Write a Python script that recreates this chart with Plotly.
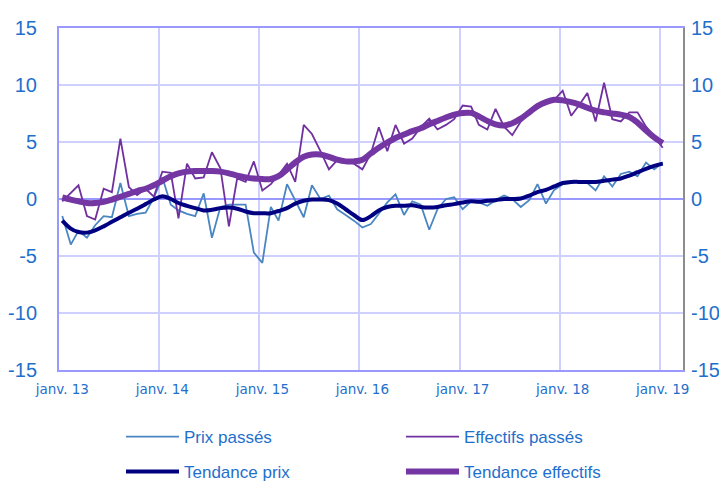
import pandas as pd
import plotly.graph_objects as go

months = pd.date_range("2013-01-01", periods=73, freq="MS")

prix_passes = [
    -1.5, -4.0, -2.8, -3.4, -2.3, -1.5, -1.6, 1.4, -1.5, -1.3, -1.2, 0.1,
    1.9, -0.5, -1.0, -1.3, -1.5, 0.5, -3.4, -0.7, -0.5, -0.5, -0.5, -4.7,
    -5.6, -0.7, -1.9, 1.3, -0.1, -1.6, 1.2, 0.0, 0.3, -0.9, -1.4, -1.9,
    -2.5, -2.2, -1.3, -0.3, 0.4, -1.4, -0.2, -0.5, -2.7, -0.9, 0.0, 0.15,
    -0.9, -0.2, -0.3, -0.6, -0.1, 0.3, 0.0, -0.7, -0.1, 1.3, -0.4, 0.8,
    1.3, 1.4, 1.5, 1.4, 0.75, 2.0, 1.1, 2.2, 2.4, 2.0, 3.2, 2.6,
    3.2,
]

effectifs_passes = [
    -0.2, 0.5, 1.2, -1.5, -1.8, 0.9, 0.6, 5.3, 1.05, 0.35, 0.9, 0.2,
    2.4, 2.3, -1.7, 3.1, 1.8, 1.9, 4.1, 2.7, -2.4, 1.8, 1.5, 3.3,
    0.75, 1.3, 2.1, 3.1, 1.5, 6.5, 5.7, 4.2, 2.6, 3.4, 3.3, 3.1,
    2.6, 4.0, 6.3, 4.2, 6.5, 4.85, 5.3, 6.3, 7.05, 6.1, 6.5, 7.0,
    8.2, 8.1, 6.5, 6.1, 7.9, 6.35, 5.6, 6.8, 7.5, 8.2, 8.55, 8.7,
    9.5, 7.3, 8.2, 9.3, 6.8, 10.2, 7.0, 6.8, 7.6, 7.6, 6.35, 5.5,
    4.5,
]

tendance_prix = [
    -1.9, -2.6, -2.9, -2.95, -2.75, -2.4, -2.0, -1.6, -1.2, -0.85, -0.45, -0.05,
    0.25, 0.0, -0.35, -0.6, -0.8, -1.0, -0.95, -0.8, -0.75, -0.85, -1.1, -1.25,
    -1.25, -1.25, -1.05, -0.8, -0.4, -0.15, -0.05, -0.05, -0.1, -0.4, -0.9, -1.4,
    -1.85, -1.5, -1.0, -0.7, -0.6, -0.6, -0.55, -0.7, -0.75, -0.7, -0.55, -0.45,
    -0.3, -0.2, -0.25, -0.15, -0.1, 0.0, 0.0, 0.05, 0.3, 0.6, 0.8, 1.1,
    1.4, 1.5, 1.5, 1.5, 1.5, 1.6, 1.7, 1.8, 2.05, 2.35, 2.65, 2.9,
    3.1,
]

tendance_effectifs = [
    0.15, -0.05, -0.2, -0.35, -0.35, -0.25, -0.05, 0.2, 0.45, 0.7, 0.9, 1.2,
    1.6, 2.0, 2.25, 2.4, 2.45, 2.45, 2.45, 2.4, 2.25, 2.05, 1.9, 1.8,
    1.75, 1.75, 2.0, 2.6, 3.2, 3.7, 3.9, 3.9, 3.7, 3.45, 3.3, 3.3,
    3.45, 4.0, 4.5, 4.95, 5.35, 5.65, 5.95, 6.2, 6.55, 6.85, 7.15, 7.4,
    7.55, 7.55, 7.25, 6.85, 6.55, 6.45, 6.65, 7.05, 7.6, 8.15, 8.5, 8.7,
    8.65, 8.5, 8.3, 8.0, 7.75, 7.6, 7.5, 7.4, 7.2, 6.7, 6.0, 5.4,
    4.9,
]

tick_dates = ["2013-01-01", "2014-01-01", "2015-01-01", "2016-01-01",
              "2017-01-01", "2018-01-01", "2019-01-01"]
tick_labels = ["janv. 13", "janv. 14", "janv. 15", "janv. 16",
               "janv. 17", "janv. 18", "janv. 19"]
grid_dates = ["2013-12-21", "2014-12-21", "2015-12-21", "2016-12-21",
              "2017-12-21", "2018-12-21"]
y_ticks = [-15, -10, -5, 0, 5, 10, 15]
y_tick_labels = ["-15", "-10", "-5", "0", "5", "10", "15"]

BLUE_TXT = "#1f6fcc"
FONT = "Liberation Sans, Arial, sans-serif"

W, H = 719, 482

fig = go.Figure()
fig.add_trace(go.Scatter(x=months, y=prix_passes, name="Prix passés",
                         mode="lines", line=dict(color="#4a86c1", width=1.8),
                         legend="legend"))
fig.add_trace(go.Scatter(x=months, y=effectifs_passes, name="Effectifs passés",
                         mode="lines", line=dict(color="#7030a0", width=1.8),
                         legend="legend"))
fig.add_trace(go.Scatter(x=months, y=tendance_prix, name="Tendance prix",
                         mode="lines", line=dict(color="#000080", width=4, shape="spline"),
                         legend="legend2"))
fig.add_trace(go.Scatter(x=months, y=tendance_effectifs, name="Tendance effectifs",
                         mode="lines", line=dict(color="#7436a3", width=6, shape="spline"),
                         legend="legend2"))
# right axis (same scale)
fig.add_trace(go.Scatter(x=months, y=tendance_effectifs, yaxis="y2", mode="lines",
                         line=dict(width=0, color="rgba(0,0,0,0)"), showlegend=False,
                         hoverinfo="skip"))

legend_common = dict(orientation="h", xref="container", yref="container",
                     xanchor="left", yanchor="middle",
                     font=dict(family=FONT, size=17, color=BLUE_TXT),
                     entrywidth=212, entrywidthmode="pixels",
                     bgcolor="rgba(0,0,0,0)", itemwidth=53, tracegroupgap=0)

fig.update_layout(
    width=W, height=H,
    margin=dict(l=59, r=36, t=28, b=112),
    paper_bgcolor="white", plot_bgcolor="white",
    font=dict(family=FONT, color=BLUE_TXT),
    legend=dict(x=121 / W, y=1 - 437 / H, **legend_common),
    legend2=dict(x=121 / W, y=1 - 472 / H, **legend_common),
    xaxis=dict(
        type="date", range=["2012-12-20", "2019-03-16"], automargin=False,
        tickmode="array", tickvals=tick_dates, ticktext=tick_labels,
        showgrid=False, ticks="", ticklabelstandoff=6,
        tickfont=dict(family="DejaVu Sans, sans-serif", size=13.5, color=BLUE_TXT),
        showline=True, linecolor="#9999ff", linewidth=2, mirror=True,
        minor=dict(tickmode="array", tickvals=grid_dates, showgrid=True,
                   gridcolor="#d0d0ff", gridwidth=2, ticks=""),
        zeroline=False,
    ),
    yaxis=dict(
        range=[-15, 15], tickmode="array", tickvals=y_ticks, ticktext=y_tick_labels,
        automargin=False,
        showgrid=True, gridcolor="#d0d0ff", gridwidth=2,
        zeroline=True, zerolinecolor="#9999ff", zerolinewidth=2,
        showline=True, linecolor="#9999ff", linewidth=2,
        ticks="", ticklabelstandoff=16,
        tickfont=dict(family=FONT, size=20, color=BLUE_TXT),
    ),
    yaxis2=dict(
        range=[-15, 15], tickmode="array", tickvals=y_ticks, ticktext=y_tick_labels,
        automargin=False,
        overlaying="y", side="right", showgrid=False, zeroline=False,
        showline=True, linecolor="#8c8c8c", linewidth=2,
        ticks="", ticklabelstandoff=2,
        tickfont=dict(family=FONT, size=20, color=BLUE_TXT),
    ),
)

# remove the default page margin so the figure fills the window exactly
fig.write_html(
    "out.html",
    config={"displayModeBar": False},
    post_script="document.body.style.margin='0';document.body.style.overflow='hidden';",
)
